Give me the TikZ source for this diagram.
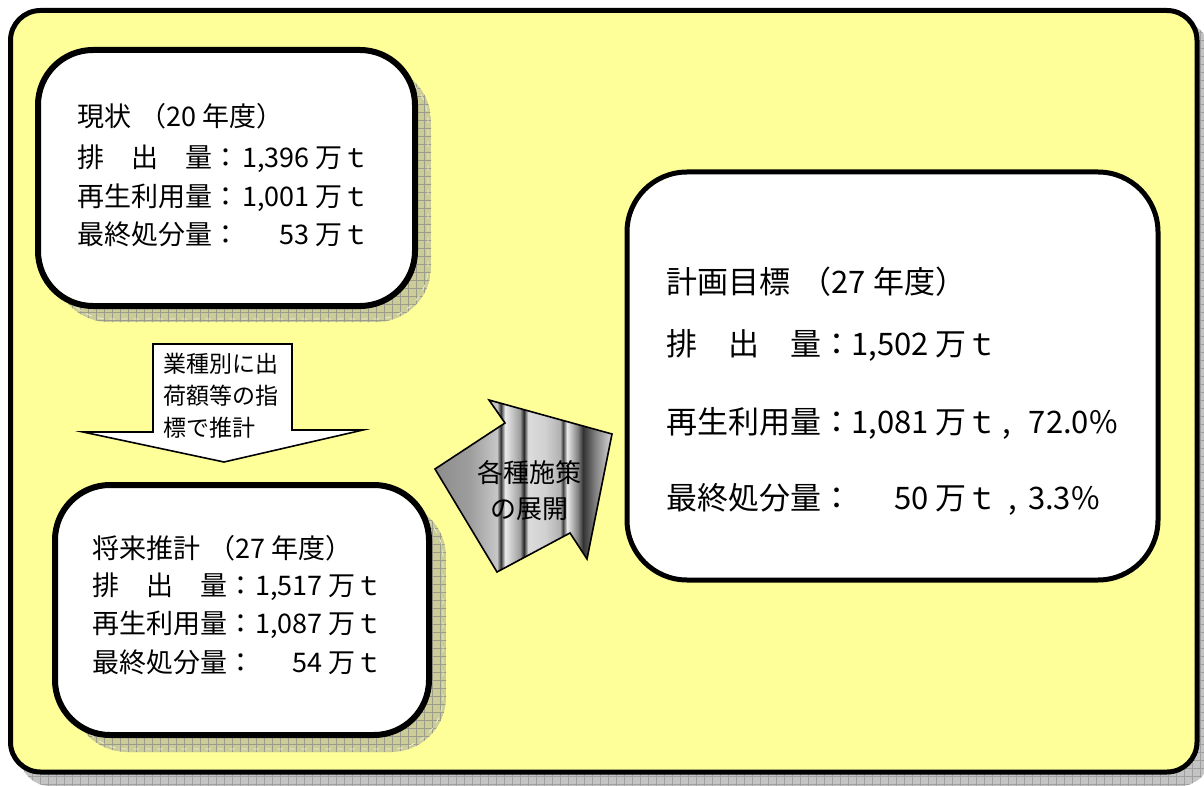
\documentclass[tikz,border=0pt]{standalone}
\usepackage{fontspec}
\newfontfamily\jp{Noto Sans CJK JP}
\definecolor{bgyellow}{HTML}{FFFF99}
\definecolor{khaki}{HTML}{CCCC99}
\definecolor{khgrid}{HTML}{9C9C8C}
\definecolor{khline}{HTML}{EEEECC}
\definecolor{fshadow}{HTML}{C4C4C4}
\definecolor{fgrid}{HTML}{A0A0A0}
\pgfdeclarehorizontalshading{metal}{100bp}{%
 gray(0bp)=(0.55); gray(25bp)=(0.55); gray(35bp)=(0.62); gray(42.5bp)=(0.78);
 gray(43.6bp)=(0.2); gray(44.8bp)=(0.92); gray(49bp)=(0.62); gray(50.1bp)=(0.15);
 gray(51.3bp)=(0.86); gray(56bp)=(0.82); gray(60.3bp)=(0.7); gray(61.2bp)=(0.25);
 gray(62.3bp)=(0.92); gray(65.4bp)=(0.5); gray(66.8bp)=(0.2); gray(70.2bp)=(0.5);
 gray(75bp)=(0.85); gray(100bp)=(0.85)}
\tikzset{
 frame/.style={draw=black, fill=bgyellow, line width=2.5pt, rounded corners=15pt, inner sep=0pt},
 box/.style={draw=black, fill=white, line width=3pt, rounded corners=27.5pt, inner sep=0pt},
 bigbox/.style={draw=black, fill=white, line width=2.5pt, rounded corners=30pt, inner sep=0pt},
 t1/.style={font=\jp\fontsize{13.5}{16}\selectfont, inner sep=0pt},
 t3/.style={font=\jp\fontsize{15.5}{18}\selectfont, inner sep=0pt},
 ta/.style={font=\jp\fontsize{11.5}{14}\selectfont, inner sep=0pt},
 tb/.style={font=\jp\fontsize{13}{15}\selectfont, inner sep=0pt},
 blockarrow/.style={draw=black, line width=0.8pt, line join=miter},
 shadowedge/.style={draw=khline, line width=0.4pt, dashed, rounded corners=26pt},
}
\begin{document}
\begin{tikzpicture}[x=0.5pt,y=-0.5pt]
\useasboundingbox (0,0) rectangle (1204,786);
\clip (0,0) rectangle (1204,786);
% frame shadow
\begin{scope}
 \clip[rounded corners=15pt] (20,22) rectangle (1210,786);
 \fill[fshadow] (0,0) rectangle (1210,790);
 \draw[fgrid, line width=0.4pt, step=4pt] (0,0) grid (1210,790);
\end{scope}
\node[frame, minimum width=593.25pt, minimum height=380.75pt] (frame) at (603.75,391.25) {};
% box shadows
\begin{scope}
 \clip[rounded corners=27.5pt] (54,66) rectangle (431,322);
 \fill[khaki] (54,66) rectangle (431,322);
 \draw[khgrid, line width=0.4pt, step=4pt] (50,62) grid (436,326);
\end{scope}
\draw[shadowedge] (57,69) rectangle (428,319);
\begin{scope}
 \clip[rounded corners=27.5pt] (72,502) rectangle (446,752);
 \fill[khaki] (72,502) rectangle (446,752);
 \draw[khgrid, line width=0.4pt, step=4pt] (68,498) grid (450,756);
\end{scope}
\draw[shadowedge] (75,505) rectangle (443,749);
% boxes
\node[box, minimum width=188.5pt, minimum height=128pt] (now) at (226.5,178) {};
\node[box, minimum width=187pt, minimum height=125pt] (future) at (242,610) {};
\node[bigbox, minimum width=265.5pt, minimum height=204pt] (goal) at (892.5,376) {};
% box 1 text
\node[t1, anchor=base west] (nowt) at (77,127) {現状\hspace{4pt}（20\hspace{3pt}年度）};
\node[t1, anchor=base west] (nowa) at (77,168) {排　出　量：};
\node[t1, anchor=base east] (nowav) at (370,168) {1,396 万ｔ};
\node[t1, anchor=base west] (nowb) at (77,207) {再生利用量：};
\node[t1, anchor=base east] (nowbv) at (370,207) {1,001 万ｔ};
\node[t1, anchor=base west] (nowc) at (77,245) {最終処分量：};
\node[t1, anchor=base east] (nowcv) at (370,245) {53 万ｔ};
% box 2 text
\node[t1, anchor=base west] (fut) at (92,558) {将来推計\hspace{4pt}（27\hspace{3pt}年度）};
\node[t1, anchor=base west] (futa) at (92,595) {排　出　量：};
\node[t1, anchor=base east] (futav) at (383,595) {1,517 万ｔ};
\node[t1, anchor=base west] (futb) at (92,633) {再生利用量：};
\node[t1, anchor=base east] (futbv) at (383,633) {1,087 万ｔ};
\node[t1, anchor=base west] (futc) at (92,672) {最終処分量：};
\node[t1, anchor=base east] (futcv) at (383,672) {54 万ｔ};
% box 3 text
\node[t3, anchor=base west] (goalt) at (666,293) {計画目標\hspace{5pt}（27\hspace{4pt}年度）};
\node[t3, anchor=base west] (goala) at (666,355) {排　出　量：};
\node[t3, anchor=base east] (goalav) at (998,355) {1,502 万ｔ};
\node[t3, anchor=base west] (goalb) at (666,433) {再生利用量：};
\node[t3, anchor=base east] (goalbv) at (998,433) {1,081 万ｔ};
\node[t3, anchor=base west] (goalbc) at (1002,433) {,};
\node[t3, anchor=base east] (goalbp) at (1118,433) {72.0\%};
\node[t3, anchor=base west] (goalc) at (666,509) {最終処分量：};
\node[t3, anchor=base east] (goalcv) at (998,509) {50 万ｔ};
\node[t3, anchor=base west] (goalcc) at (1008,509) {,};
\node[t3, anchor=base east] (goalcp) at (1100,509) {3.3\%};
% down arrow
\draw[blockarrow, fill=white] (153,344) -- (292,344) -- (292,430) -- (363,430)
  -- (224,462) -- (83,432) -- (153,432) -- cycle;
\node[ta, anchor=base west] (da1) at (163,372) {業種別に出};
\node[ta, anchor=base west] (da2) at (163,404) {荷額等の指};
\node[ta, anchor=base west] (da3) at (163,436) {標で推計};
% diagonal arrow
\draw[blockarrow, shading=metal] (435,469) -- (505,423) -- (489,400) -- (612,434)
  -- (587,559) -- (570,533) -- (497,572) -- cycle;
\node[tb, anchor=base] (dg1) at (529,482) {各種施策};
\node[tb, anchor=base] (dg2) at (529,518) {の展開};
\end{tikzpicture}
\end{document}
